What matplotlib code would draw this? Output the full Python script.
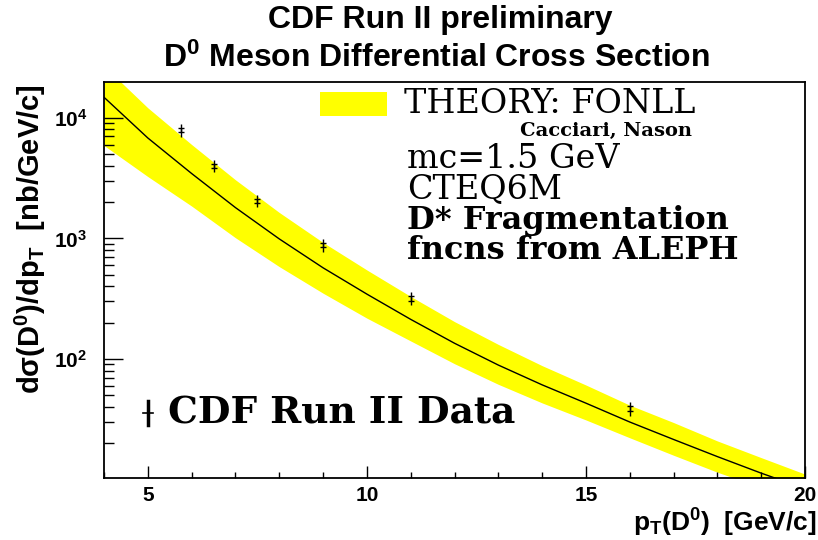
import matplotlib
matplotlib.use('Agg')
import matplotlib.pyplot as plt
from matplotlib.patches import Rectangle
from matplotlib.lines import Line2D
from matplotlib.ticker import FixedLocator, LogLocator, NullFormatter

# data
pt_data = [5.75, 6.5, 7.5, 9.0, 11.0, 16.0]
xsec_data = [7900, 4000, 2050, 880, 318, 38.6]
err_tot = [950, 480, 245, 105, 40, 5.0]
err_stat = [320, 160, 85, 35, 13, 1.8]

pt_theory = [4, 5, 6, 7, 8, 9, 10, 11, 12, 13, 14, 15, 16, 17, 18, 19, 20]
xsec_central = [14800, 6800, 3450, 1800, 990, 570, 345, 213, 135, 89, 61, 43, 30, 21.5, 15.5, 11.3, 8.4]
xsec_upper = [26900, 12100, 6000, 3060, 1640, 925, 547, 330, 204, 132, 88, 60.8, 41.4, 29.7, 20.9, 15.2, 11.1]
xsec_lower = [5890, 3255, 1853, 1012, 583, 351, 218, 141, 91.3, 61.6, 43.2, 31.2, 22.2, 15.9, 11.5, 8.6, 6.4]

x_ticks = [5, 10, 15, 20]
x_tick_labels = ['5', '10', '15', '20']

W, H = 818, 540

plt.rcParams['font.family'] = ['Liberation Sans', 'DejaVu Sans']
plt.rcParams['font.weight'] = 'bold'
plt.rcParams['axes.labelweight'] = 'bold'
plt.rcParams['mathtext.fontset'] = 'custom'
plt.rcParams['mathtext.rm'] = 'Liberation Sans:bold'
plt.rcParams['mathtext.it'] = 'Liberation Sans:bold'
plt.rcParams['mathtext.bf'] = 'Liberation Sans:bold'
plt.rcParams['mathtext.default'] = 'rm'

serif = 'DejaVu Serif'


def fx(px):
    return px / W


def fy(py):
    return 1 - py / H


fig = plt.figure(figsize=(W / 100, H / 100), dpi=100)
ax = fig.add_axes([fx(104), fy(478), (805 - 104) / W, (478 - 82) / H])

ax.fill_between(pt_theory, xsec_lower, xsec_upper, color='#ffff00', lw=0, zorder=1)
ax.plot(pt_theory, xsec_central, color='black', lw=1, zorder=2)
ax.errorbar(pt_data, xsec_data, yerr=err_tot, fmt='none', ecolor='black', elinewidth=1, capsize=0, zorder=3)
ax.errorbar(pt_data, xsec_data, yerr=err_stat, fmt='none', ecolor='black', elinewidth=1,
            capsize=2.5, capthick=1, zorder=3)

ax.set_yscale('log')
ax.set_xlim(4, 20)
ax.set_ylim(10.3, 19800)

ax.xaxis.set_major_locator(FixedLocator(x_ticks))
ax.xaxis.set_minor_locator(FixedLocator(range(4, 21)))
ax.set_xticklabels(x_tick_labels)
ax.yaxis.set_major_locator(LogLocator(base=10))
ax.yaxis.set_minor_locator(LogLocator(base=10, subs=range(2, 10)))
ax.yaxis.set_minor_formatter(NullFormatter())

ax.tick_params(axis='x', which='major', direction='in', length=9, width=1, pad=6, labelsize=15)
ax.tick_params(axis='x', which='minor', direction='in', length=4.5, width=1)
ax.tick_params(axis='y', which='major', direction='in', length=14, width=1, pad=12, labelsize=15)
ax.tick_params(axis='y', which='minor', direction='in', length=7, width=1)
for s in ax.spines.values():
    s.set_linewidth(1.3)

ax.set_xlabel(r'p$_{T}$(D$^{0}$)  [GeV/c]', fontsize=19)
ax.xaxis.set_label_coords((817 - 104) / 701, -(523 - 478) / 396)
ax.xaxis.label.set_horizontalalignment('right')
ax.xaxis.label.set_verticalalignment('center')
ax.set_ylabel('d\u03c3(D$^{0}$)/dp$_{T}$  [nb/GeV/c]', fontsize=21)
ax.yaxis.set_label_coords(-(104 - 30) / 701, (478 - 84) / 396)
ax.yaxis.label.set_verticalalignment('center')
ax.yaxis.label.set_horizontalalignment('right')

# titles
fig.text(fx(440), fy(20), 'CDF Run II preliminary', ha='center', va='center', fontsize=23)
fig.text(fx(436), fy(58), r'D$^{0}$ Meson Differential Cross Section', ha='center', va='center',
         fontsize=23)

# legend box for the theory
fig.add_artist(Rectangle((fx(320), fy(115.5)), 67 / W, 24 / H, color='#ffff00', lw=0))
fig.text(fx(404), fy(104), 'THEORY: FONLL', ha='left', va='center', fontsize=24, family=serif,
         weight='normal')
fig.text(fx(520), fy(131), 'Cacciari, Nason', ha='left', va='center', fontsize=14, family=serif,
         weight='bold')
fig.text(fx(407), fy(159), 'mc=1.5 GeV', ha='left', va='center', fontsize=24, family=serif,
         weight='normal')
fig.text(fx(407), fy(189), 'CTEQ6M', ha='left', va='center', fontsize=24, family=serif,
         weight='normal')
fig.text(fx(407), fy(220), 'D* Fragmentation', ha='left', va='center', fontsize=23, family=serif,
         weight='bold')
fig.text(fx(407), fy(250), 'fncns from ALEPH', ha='left', va='center', fontsize=23, family=serif,
         weight='bold')

# legend for the data
fig.add_artist(Line2D([fx(148), fx(148)], [fy(401), fy(425)], color='black', lw=2.5))
fig.add_artist(Line2D([fx(143), fx(153)], [fy(413), fy(413)], color='black', lw=1.2))
fig.text(fx(168), fy(413), 'CDF Run II Data', ha='left', va='center', fontsize=27, family=serif,
         weight='bold')

fig.savefig('out.png', dpi=100)
